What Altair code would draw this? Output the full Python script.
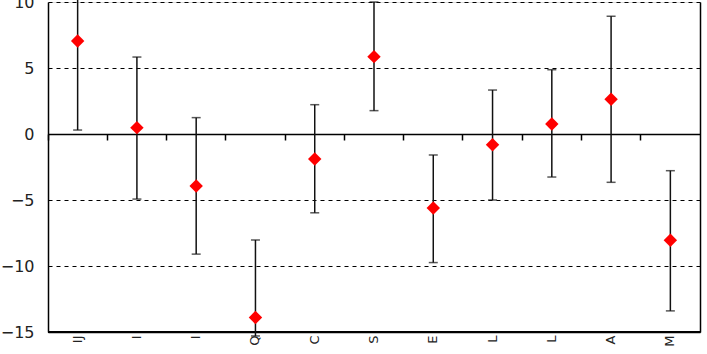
import json
import altair as alt
import pandas as pd

labels = ["IJ", "I", "I", "Q", "C", "S", "E", "L", "L", "A", "M"]
means = [7.05, 0.48, -3.94, -13.9, -1.89, 5.86, -5.6, -0.81, 0.76, 2.63, -8.05]
lows = [0.3, -4.93, -9.1, -15.3, -5.97, 1.77, -9.74, -5.0, -3.26, -3.66, -13.4]
highs = [10.6, 5.83, 1.24, -8.03, 2.22, 10.0, -1.59, 3.33, 4.87, 8.92, -2.78]
y_min, y_max = -15, 10

df = pd.DataFrame({
    "idx": list(range(len(labels))),
    "label": labels,
    "mean": means,
    "lo": lows,
    "hi": highs,
})

label_expr = json.dumps(labels) + "[datum.value]"
FONT = "DejaVu Sans"
yscale = alt.Scale(domain=[y_min, y_max], nice=False, zero=False)
xscale = alt.Scale(paddingInner=0, paddingOuter=0)

base = alt.Chart(df)

bottom_line = base.mark_rule(color="black", strokeWidth=1.5).encode(
    y=alt.datum(y_min, scale=yscale, axis=None),
)

rules = base.mark_rule(color="#111", strokeWidth=1.5).encode(
    x=alt.X("idx:O", scale=xscale, axis=alt.Axis(
        orient="bottom", title=None, labels=False, ticks=True, tickSize=6,
        tickColor="black", tickWidth=1.5, bandPosition=0, domain=True,
        domainColor="black", domainWidth=1.5, offset=-198, grid=False)),
    y=alt.Y("lo:Q", scale=yscale, axis=alt.Axis(
        orient="right", title=None, labels=False, ticks=False, grid=False,
        domain=True, domainColor="black", domainWidth=1.5)),
    y2="hi:Q",
)

cap_lo = base.mark_tick(color="#111", size=9, thickness=1.5).encode(
    x=alt.X("idx:O", scale=xscale, axis=None),
    y=alt.Y("lo:Q", scale=yscale, axis=None),
)
cap_hi = base.mark_tick(color="#111", size=9, thickness=1.5).encode(
    x=alt.X("idx:O", scale=xscale, axis=None),
    y=alt.Y("hi:Q", scale=yscale, axis=None),
)

points = base.mark_point(shape="diamond", filled=True, color="red",
                         size=180, opacity=1).encode(
    x=alt.X("idx:O", scale=xscale, axis=alt.Axis(
        orient="bottom", title=None, labelExpr=label_expr, labelAngle=270,
        labelFontSize=13, labelFont=FONT, labelColor="#222", ticks=False,
        domain=True, domainColor="black", domainWidth=1.5, labelPadding=3,
        grid=False)),
    y=alt.Y("mean:Q", scale=yscale, axis=alt.Axis(
        orient="left", title=None, values=[-15, -10, -5, 0, 5, 10], grid=True,
        gridDash=[4, 4], gridColor="black", gridWidth=1.2, gridOpacity=1,
        ticks=False, labelFontSize=16, labelFont=FONT, labelColor="#222",
        labelPadding=14, domain=True, domainColor="black", domainWidth=1.5)),
)

chart = alt.layer(bottom_line, rules, cap_lo, cap_hi, points).resolve_axis(
    x="independent", y="independent"
).properties(
    width=652,
    height=330,
    autosize=alt.AutoSizeParams(type="none"),
    padding={"left": 48, "top": 2, "right": 7, "bottom": 22},
).configure_view(stroke=None).configure(background="white")

chart.save("out.html", embed_options={"renderer": "svg", "actions": False})
